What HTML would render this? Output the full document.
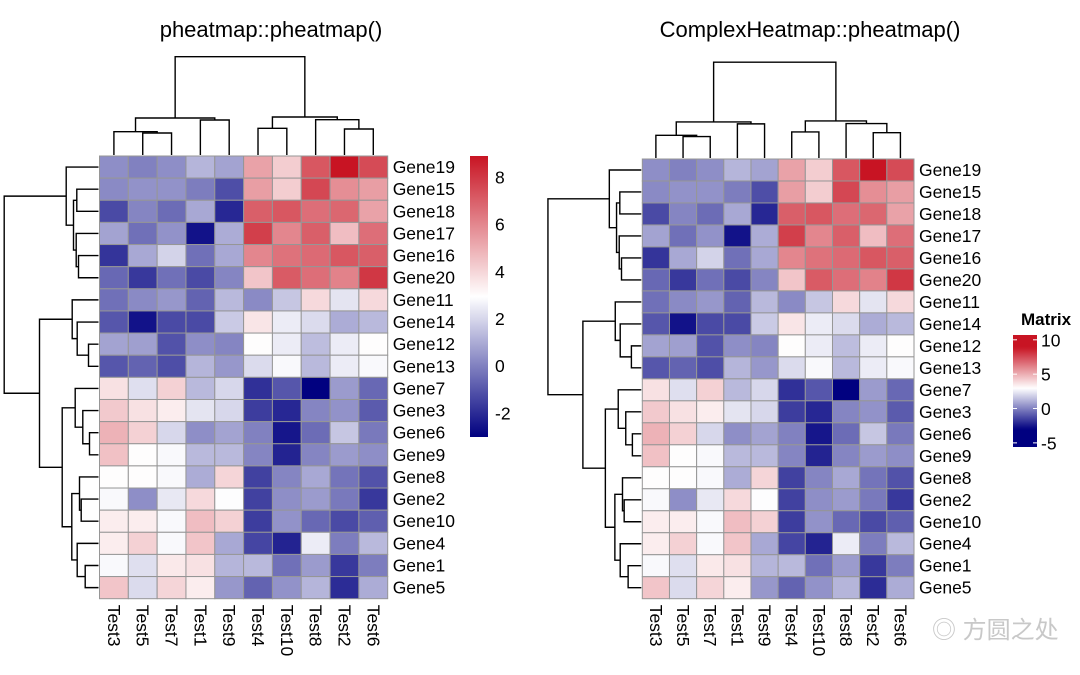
<!DOCTYPE html>
<html><head><meta charset="utf-8"><style>
body{margin:0;background:#fff;}
svg{display:block;font-family:"Liberation Sans","Noto Sans CJK SC",sans-serif;}
</style></head><body>
<svg id="chart" width="1080" height="675" viewBox="0 0 1080 675" xmlns="http://www.w3.org/2000/svg">
<rect width="1080" height="675" fill="#fff"/>
<text x="271" y="37" font-size="22" text-anchor="middle">pheatmap::pheatmap()</text>
<text x="810" y="37" font-size="22" text-anchor="middle">ComplexHeatmap::pheatmap()</text>
<text x="1046" y="325" font-size="17" font-weight="bold" text-anchor="middle">Matrix</text>
<text x="932" y="638" font-size="24" fill="#c8c8c8">◎ 方圆之处</text>
</svg>
<script>
const rowLabels=["Gene19","Gene15","Gene18","Gene17","Gene16","Gene20","Gene11","Gene14","Gene12","Gene13","Gene7","Gene3","Gene6","Gene9","Gene8","Gene2","Gene10","Gene4","Gene1","Gene5"];
const colLabels=["Test3","Test5","Test7","Test1","Test9","Test4","Test10","Test8","Test2","Test6"];
const values=[
[0.3,0.0,0.3,1.2,0.8,5.3,4.2,7.2,8.9,7.5],
[0.2,0.4,0.4,-0.1,-1.2,5.4,4.2,7.6,5.8,5.4],
[-1.3,0.1,-0.5,0.9,-2.1,7.0,7.2,6.6,6.8,5.3],
[0.8,-0.4,0.4,-2.6,1.0,7.8,6.0,7.0,4.6,6.6],
[-1.8,0.9,1.9,-0.4,0.9,6.0,6.5,6.7,7.2,7.0],
[-0.6,-1.7,-0.4,-1.3,0.1,4.4,7.1,6.6,6.1,8.0],
[-0.4,0.2,0.5,-0.7,1.3,0.2,1.6,3.9,2.3,3.9],
[-1.0,-2.6,-1.3,-1.3,1.7,3.6,2.5,2.1,1.0,1.3],
[0.8,0.7,-1.1,0.3,0.1,3.0,2.5,1.4,2.5,3.0],
[-1.0,-0.7,-1.2,1.2,0.5,2.1,2.8,1.3,2.5,2.8],
[3.7,2.2,4.1,1.3,2.0,-1.9,-1.0,-3.0,0.6,-0.6],
[4.3,3.7,3.4,2.3,2.0,-1.6,-2.1,0.1,0.4,-0.9],
[4.9,4.1,2.0,0.3,0.8,0.0,-2.5,-0.5,1.6,-0.2],
[4.5,3.0,2.8,1.3,1.3,0.1,-2.2,0.1,0.6,0.3],
[3.0,3.0,2.8,1.0,4.0,-1.5,0.1,0.9,-0.3,-1.1],
[2.8,0.3,2.4,3.9,2.9,-1.5,0.3,0.6,-0.2,-1.7],
[3.4,3.4,2.8,4.6,4.1,-1.6,0.4,-0.6,-1.3,-0.8],
[3.4,4.1,2.8,4.4,0.9,-1.4,-2.2,2.5,-0.1,1.3],
[2.8,2.2,3.5,3.7,1.2,1.3,-0.4,0.6,-1.7,-0.1],
[4.4,2.1,4.0,3.4,0.5,-0.7,0.4,1.2,-2.0,1.0]];
const rowMerges=[[-5,-6,20],[-4,1,22.3],[-2,-3,21.7],[3,2,25],[-1,4,32.3],[-9,-10,10],[-8,6,21.3],[-7,7,26.3],[-13,-14,9],[-12,9,15.7],[-11,10,23.3],[-16,-17,17.3],[-15,12,19],[-19,-20,13.3],[-18,14,21.3],[13,15,26.7],[11,16,36.3],[8,17,59],[5,18,94.3]];
const colMerges=[[-2,-3,22],[-1,1,23.3],[-4,-5,35],[2,3,37],[-6,-7,26.7],[-9,-10,26],[-8,6,35.3],[5,7,38],[4,8,98.3]];
const leftTicks=[8,6,4,2,0,-2];
const rightTicks=[10,5,0,-5];

const NS="http://www.w3.org/2000/svg";
const svg=document.getElementById("chart");
function el(t,a,p){const e=document.createElementNS(NS,t);for(const k in a)e.setAttribute(k,a[k]);(p||svg).appendChild(e);return e;}
const vmin=-3.02,vmid=2.94,vmax=8.89;
function mix(a,b,t){return a.map((v,i)=>Math.round(v+(b[i]-v)*t));}
function color(v){const n=[0,0,128],w=[255,255,255],r=[200,20,35];let c;
 if(v<=vmid){c=mix(n,w,Math.max(0,Math.min(1,(v-vmin)/(vmid-vmin))));}
 else{c=mix(w,r,Math.max(0,Math.min(1,(v-vmid)/(vmax-vmid))));}
 return `rgb(${c[0]},${c[1]},${c[2]})`;}

function drawHeatmap(cfg){
 const g=el("g",{});
 
 
 const cw=(cfg.x1-cfg.x0)/colLabels.length, rh=(cfg.y1-cfg.y0)/rowLabels.length;
 const xScale=i=>cfg.x0+i*cw, yScale=i=>cfg.y0+i*rh;
 values.forEach((row,i)=>row.forEach((v,j)=>{
  const r=el("rect",{x:xScale(j),y:yScale(i),width:cw,height:rh,fill:color(v),stroke:"#969696","stroke-width":1},g);
  
  
 }));
 rowLabels.forEach((l,i)=>{
  const t=el("text",{x:cfg.x1+5,y:yScale(i)+rh/2+6,"font-size":17.5},g);t.textContent=l;
  
  
 });
 colLabels.forEach((l,j)=>{
  const cx=xScale(j)+cw/2, y=cfg.y1+6;
  const t=el("text",{x:0,y:0,"font-size":17.5,transform:`translate(${cx-6},${y}) rotate(90)`},g);t.textContent=l;
  
  
 });
 const dg=el("g",{fill:"none",stroke:"#000","stroke-width":1.4},g);
 
 
 let pos=[],hh=[];
 const leafC=k=>[xScale(k-1)+cw/2,0];
 colMerges.forEach(m=>{
  const a=m[0]<0?leafC(-m[0]):[pos[m[0]-1],hh[m[0]-1]];
  const b=m[1]<0?leafC(-m[1]):[pos[m[1]-1],hh[m[1]-1]];
  const h=m[2]*cfg.ks, by=cfg.y0-1;
  el("path",{d:`M${a[0]},${by-a[1]}V${by-h}H${b[0]}V${by-b[1]}`},dg);
  pos.push((a[0]+b[0])/2);hh.push(h);
 });
 const rg=el("g",{fill:"none",stroke:"#000","stroke-width":1.4},g);
 
 
 pos=[];hh=[];
 const leafR=k=>[yScale(k-1)+rh/2,0];
 rowMerges.forEach(m=>{
  const a=m[0]<0?leafR(-m[0]):[pos[m[0]-1],hh[m[0]-1]];
  const b=m[1]<0?leafR(-m[1]):[pos[m[1]-1],hh[m[1]-1]];
  const h=m[2]*cfg.kr, bx=cfg.x0-1;
  el("path",{d:`M${bx-a[1]},${a[0]}H${bx-h}V${b[0]}H${bx-b[1]}`},rg);
  pos.push((a[0]+b[0])/2);hh.push(h);
 });
}
drawHeatmap({name:"left-heatmap",x0:99.5,x1:387.7,y0:156,y1:598.7,ks:1,kr:1});
drawHeatmap({name:"right-heatmap",x0:642.3,x1:914,y0:159,y1:598.7,ks:0.975,kr:0.99});

function legend(name,x,w,yTop,yBot,vTop,vBot,ticks,tx,tickMarks){
 const gid=name+"-grad";
 const defs=el("defs",{});
 const lg=el("linearGradient",{id:gid,x1:0,y1:0,x2:0,y2:1},defs);
 for(let i=0;i<=40;i++){const v=vTop+(vBot-vTop)*i/40;el("stop",{offset:i/40,"stop-color":color(v)},lg);}
 const r=el("rect",{x:x,y:yTop,width:w,height:yBot-yTop,fill:`url(#${gid})`});
 
 
 const yv=v=>yTop+(vTop-v)/(vTop-vBot)*(yBot-yTop);
 ticks.forEach(v=>{
  const t=el("text",{x:tx,y:yv(v)+6.5,"font-size":17.5});t.textContent=v;
  
  
  if(tickMarks){el("line",{x1:x,x2:x+4,y1:yv(v),y2:yv(v),stroke:"#fff","stroke-width":1});el("line",{x1:x+w-4,x2:x+w,y1:yv(v),y2:yv(v),stroke:"#fff","stroke-width":1});}
 });
}
legend("left-legend",470,18,156,437,8.89,-3.02,leftTicks,495,false);
legend("right-legend",1013,24,335,447,10.7,-5.6,rightTicks,1041,true);
</script>
</body></html>
